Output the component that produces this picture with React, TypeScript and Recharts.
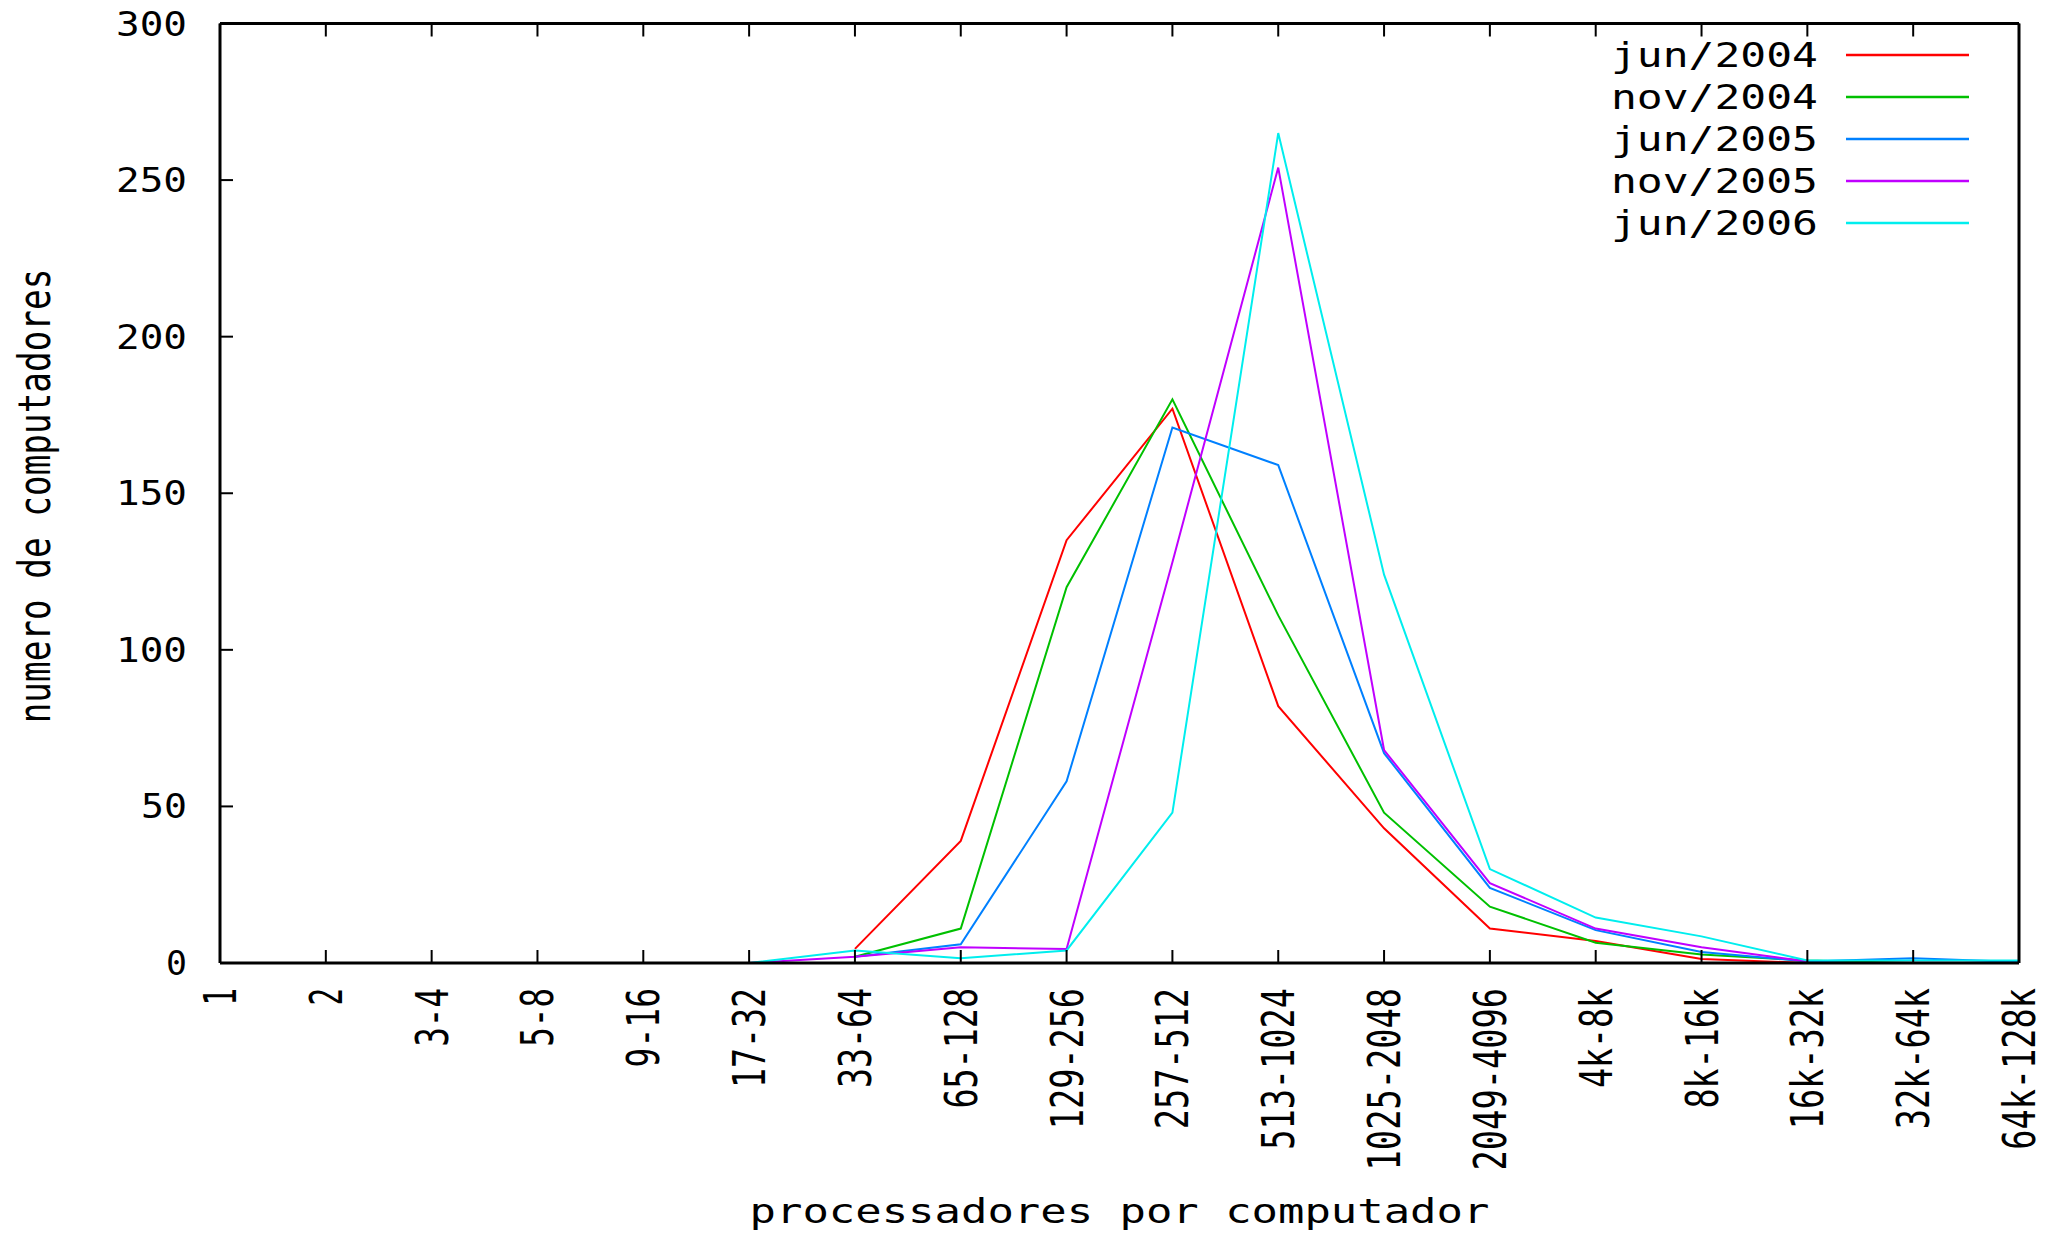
import { LineChart, Line, XAxis, YAxis, Legend } from "recharts";

const categories = [
  "1", "2", "3-4", "5-8", "9-16", "17-32", "33-64", "65-128", "129-256",
  "257-512", "513-1024", "1025-2048", "2049-4096", "4k-8k", "8k-16k",
  "16k-32k", "32k-64k", "64k-128k",
];

const seriesNames = ["jun/2004", "nov/2004", "jun/2005", "nov/2005", "jun/2006"];
const seriesColors = ["#ff0000", "#00c000", "#0080ff", "#c000ff", "#00eeee"];

// values per category, null = no point
const jun2004 = [null, null, null, null, null, null, 4.5, 39, 135, 177, 82, 43, 11, 7, 1.3, 0, null, null];
const nov2004 = [null, null, null, null, null, null, 2, 11, 120, 180, 111, 48, 18, 6.5, 2.7, 0.8, 0, null];
const jun2005 = [null, null, null, null, null, null, 2, 6, 58, 171, 159, 67, 24, 10.5, 3.5, 0.5, 1.5, 0.3];
const nov2005 = [null, null, null, null, null, 0, 2, 5, 4.5, 128, 254, 68, 25.5, 11, 5, 0.5, null, null];
const jun2006 = [null, null, null, null, null, 0, 4, 1.5, 4, 48, 265, 124, 30, 14.5, 8.5, 0.8, 0.8, 0.8];

const yTicks = [0, 50, 100, 150, 200, 250, 300];

const allSeries = [jun2004, nov2004, jun2005, nov2005, jun2006];
const rows = categories.map((cat, i) => {
  const r: any = { cat };
  allSeries.forEach((s, k) => (r["s" + k] = s[i]));
  return r;
});

const FONT = "DejaVu Sans Mono";

const XTick = (p: any) => {
  const s = String(p.payload.value);
  return (
    <text
      x={p.x}
      y={p.y}
      dy={16}
      transform={`rotate(-90 ${p.x} ${p.y})`}
      textAnchor="end"
      fontFamily={FONT}
      fontSize={45}
      fill="#000"
      textLength={s.length * 20.6 - 3}
      lengthAdjust="spacingAndGlyphs"
    >
      {s}
    </text>
  );
};

const YTick = (p: any) => {
  const s = String(p.payload.value);
  return (
    <text
      x={p.x}
      y={p.y + 12}
      textAnchor="end"
      fontFamily={FONT}
      fontSize={34}
      fill="#000"
      textLength={s.length * 25 - 4}
      lengthAdjust="spacingAndGlyphs"
    >
      {s}
    </text>
  );
};

const NoTick = () => <g />;

const LegendBox = (props: any) => {
  // keep the series order, not the alphabetical one
  const payload = [...(props.payload || [])].sort(
    (a: any, b: any) => seriesNames.indexOf(a.value) - seriesNames.indexOf(b.value)
  );
  return (
    <svg width={440} height={250}>
      {payload.map((p: any, i: number) => {
        const cy = 55 + i * 42;
        const s = String(p.value);
        return (
          <g key={s}>
            <text
              x={258}
              y={cy + 12}
              textAnchor="end"
              fontFamily={FONT}
              fontSize={34}
              fill="#000"
              textLength={s.length * 26.5 - 5}
              lengthAdjust="spacingAndGlyphs"
            >
              {s}
            </text>
            <line x1={286} x2={409} y1={cy} y2={cy} stroke={p.color} strokeWidth={2.5} />
          </g>
        );
      })}
    </svg>
  );
};

const axisStyle = { stroke: "#000", strokeWidth: 3 };
const tickStyle = { stroke: "#000", strokeWidth: 2 };

export default function App() {
  return (
    <div style={{ position: "absolute", left: 0, top: 0, background: "#fff" }}>
      <LineChart width={2052} height={1235} data={rows} margin={{ top: 22.5, right: 32, left: 0, bottom: 0 }}>
        <XAxis
          xAxisId="b"
          dataKey="cat"
          interval={0}
          height={272}
          tickSize={-13}
          tickMargin={38}
          axisLine={axisStyle}
          tickLine={tickStyle}
          tick={<XTick />}
          label={{
            content: (lp: any) => {
              const vb = lp.viewBox || { x: 220, width: 1799, y: 963 };
              const t = "processadores por computador";
              return (
                <text
                  x={vb.x + vb.width / 2}
                  y={vb.y + 260}
                  textAnchor="middle"
                  fontFamily={FONT}
                  fontSize={34}
                  fill="#000"
                  textLength={t.length * 26.6 - 5}
                  lengthAdjust="spacingAndGlyphs"
                >
                  {t}
                </text>
              );
            },
          }}
        />
        <XAxis
          xAxisId="t"
          dataKey="cat"
          orientation="top"
          interval={0}
          height={1}
          tickSize={-13}
          axisLine={axisStyle}
          tickLine={tickStyle}
          tick={<NoTick />}
        />
        <YAxis
          yAxisId="l"
          type="number"
          domain={[0, 300]}
          ticks={yTicks}
          interval={0}
          width={220}
          tickSize={-13}
          tickMargin={46}
          axisLine={axisStyle}
          tickLine={tickStyle}
          tick={<YTick />}
          label={{
            content: () => {
              const t = "numero de computadores";
              return (
                <text
                  x={50}
                  y={496}
                  transform="rotate(-90 50 496)"
                  textAnchor="middle"
                  fontFamily={FONT}
                  fontSize={45}
                  fill="#000"
                  textLength={t.length * 20.8 - 3}
                  lengthAdjust="spacingAndGlyphs"
                >
                  {t}
                </text>
              );
            },
          }}
        />
        <YAxis
          yAxisId="r"
          orientation="right"
          type="number"
          domain={[0, 300]}
          ticks={yTicks}
          interval={0}
          width={1}
          tickSize={-13}
          axisLine={axisStyle}
          tickLine={tickStyle}
          tick={<NoTick />}
        />
        <Legend
          layout="vertical"
          align="center"
          verticalAlign="middle"
          content={<LegendBox />}
          wrapperStyle={{ left: 1560, top: 0, width: 440, height: 250 }}
        />
        {seriesNames.map((name, k) => (
          <Line
            key={name}
            xAxisId="b"
            yAxisId="l"
            type="linear"
            dataKey={"s" + k}
            name={name}
            stroke={seriesColors[k]}
            strokeWidth={2}
            dot={false}
            activeDot={false}
            isAnimationActive={false}
          />
        ))}
      </LineChart>
    </div>
  );
}
